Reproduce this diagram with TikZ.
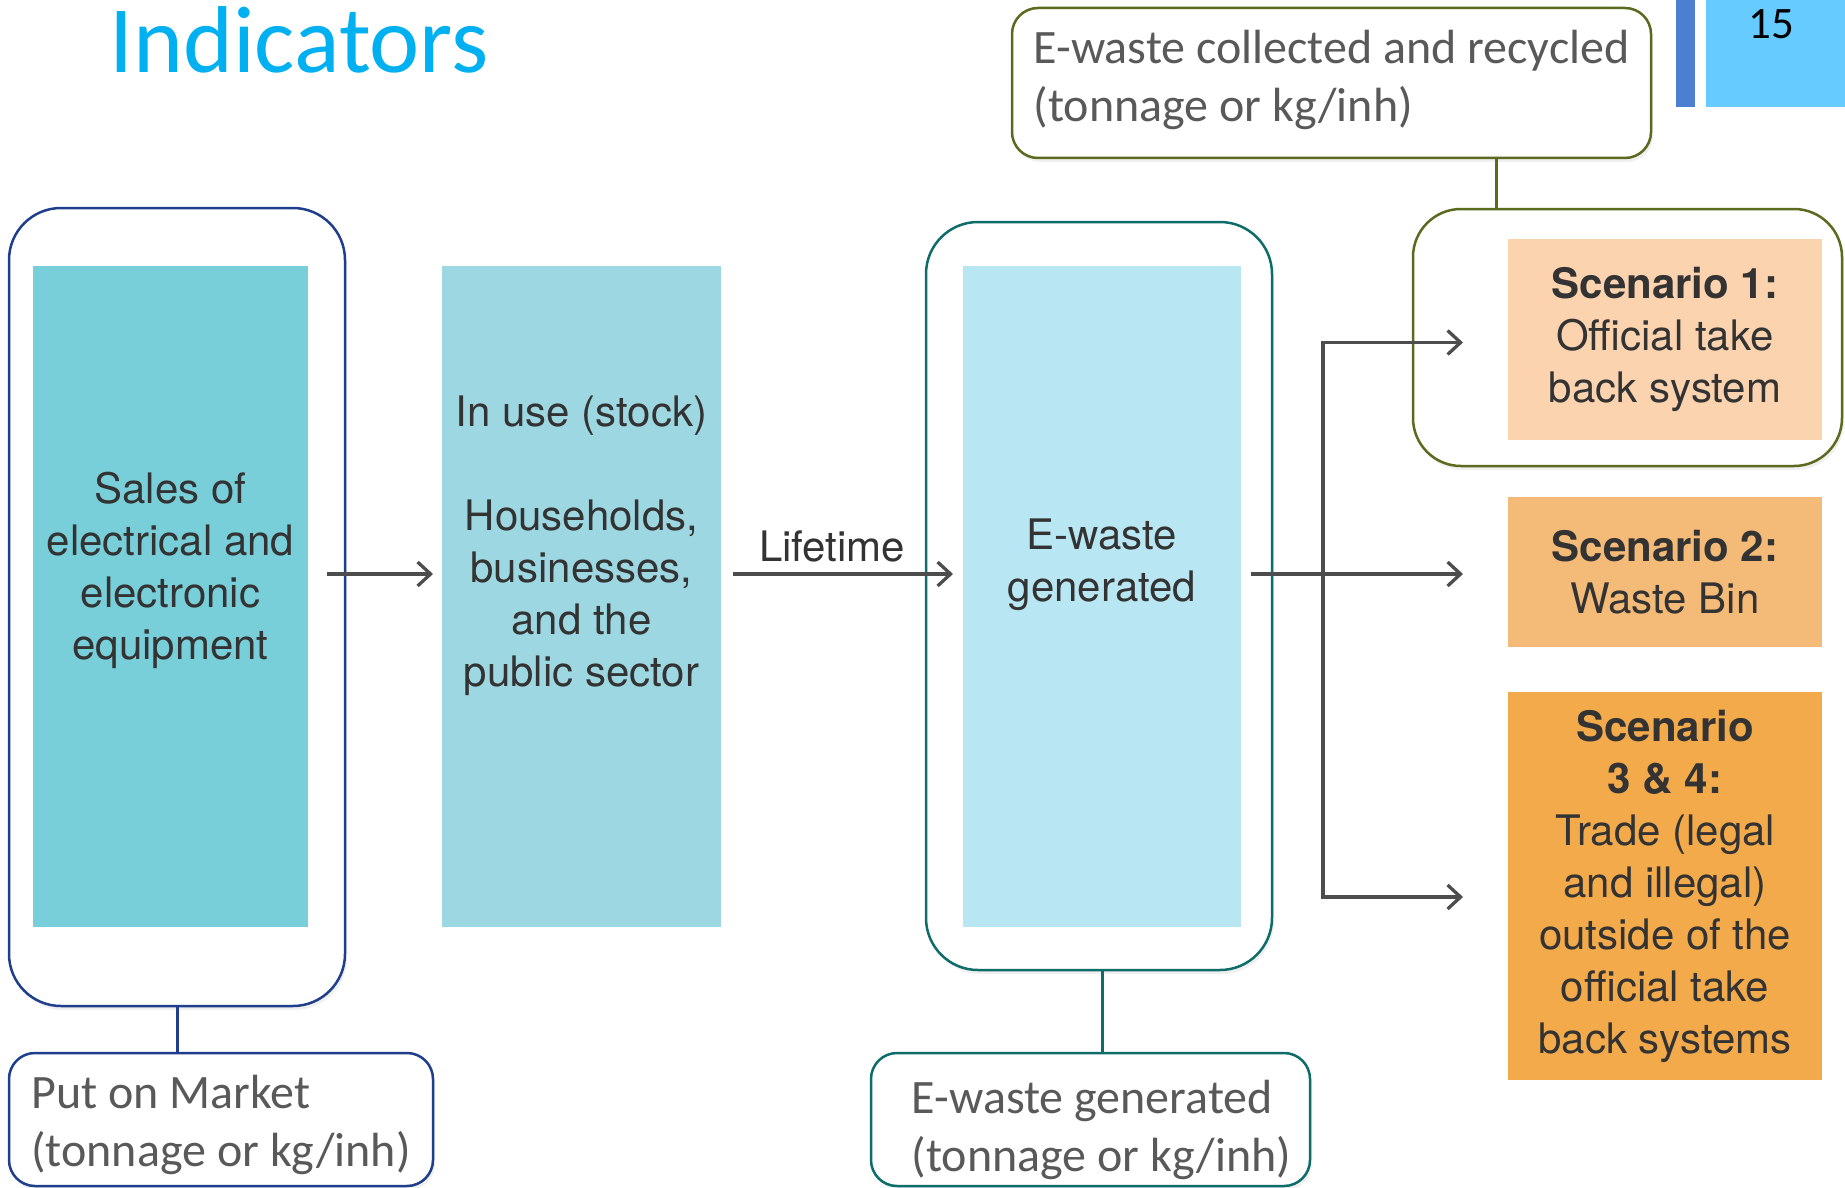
\documentclass[tikz,border=0pt]{standalone}
\usepackage{fontspec}
\setmainfont{Carlito}
\newfontfamily\helv{TeX Gyre Heros}
\usetikzlibrary{arrows.meta,shadows}
\definecolor{titleblue}{HTML}{00B0F0}
\definecolor{mktblue}{HTML}{1F3F8C}
\definecolor{ewteal}{HTML}{0E6D69}
\definecolor{recolive}{HTML}{5A6B20}
\definecolor{salescol}{HTML}{78CED9}
\definecolor{usecol}{HTML}{9DD7E1}
\definecolor{ewcol}{HTML}{B8E7F3}
\definecolor{scone}{HTML}{FBD3AF}
\definecolor{sctwo}{HTML}{F4BA77}
\definecolor{scthree}{HTML}{F3AA4B}
\definecolor{txtgray}{HTML}{595959}
\definecolor{flowgray}{HTML}{4D4D4D}
\definecolor{stripblue}{HTML}{4A7FD2}
\definecolor{numblue}{HTML}{66CCFF}
\tikzset{
  bigframe/.style={draw, fill=white, line width=2.5pt, outer sep=0pt, rounded corners=#1,
    drop shadow={opacity=0.12, shadow xshift=2pt, shadow yshift=-4pt}},
  bigframe/.default=52pt,
  tag/.style={draw, fill=white, line width=2.5pt, outer sep=0pt, rounded corners=26pt,
    align=left, text=txtgray, font=\fontsize{48}{58}\selectfont,
    drop shadow={opacity=0.12, shadow xshift=2pt, shadow yshift=-4pt}},
  stage/.style={inner sep=0pt, outer sep=0pt, minimum height=661pt},
  lbl/.style={inner sep=0pt, outer sep=0pt, align=center, text=black!80,
    font=\helv\fontsize{42}{52}\selectfont},
  flow/.style={line width=3.3pt, draw=flowgray, -{Straight Barb[length=13pt,width=24pt]}},
  link/.style={line width=3pt}
}
\begin{document}
\begin{tikzpicture}[x=1pt,y=-1pt]
\useasboundingbox (0,0) rectangle (1845,1188);
% slide header
\fill[stripblue] (1676,0) rectangle (1695,107);
\fill[numblue] (1706,0) rectangle (1845,107);
\node[font=\fontsize{45}{54}\selectfont] (pagenum) at (1771,24) {15};
\node[anchor=base west, text=titleblue, font=\fontsize{95}{110}\selectfont] (title) at (106,73) {Indicators};
% frames
\node[bigframe, draw=mktblue, minimum width=336pt, minimum height=798pt] (salesframe) at (177,607) {};
\node[bigframe, draw=ewteal, minimum width=346pt, minimum height=748pt] (ewframe) at (1099,596) {};
\node[bigframe=48pt, draw=recolive, minimum width=429pt, minimum height=257pt] (scframe) at (1627.5,337.5) {};
% stages
\node[stage, fill=salescol, minimum width=275pt] (sales) at (170.5,596.5) {};
\node[stage, fill=usecol, minimum width=279pt] (inuse) at (581.5,596.5) {};
\node[stage, fill=ewcol, minimum width=278pt] (ewaste) at (1102,596.5) {};
\node[lbl] (salestxt) at (170.5,570.5) {Sales of\\electrical and\\electronic\\equipment};
\node[lbl] (inusetxt) at (581.5,546) {In use (stock)\\[52pt]Households,\\businesses,\\and the\\public sector};
\node[lbl] (ewastetxt) at (1102,565) {E-waste\\generated};
% scenarios
\node[lbl, fill=scone, minimum width=314pt, minimum height=201pt] (sc1) at (1665,339.5)
  {\textbf{Scenario 1:}\\Official take\\back system};
\node[lbl, fill=sctwo, minimum width=314pt, minimum height=150pt] (sc2) at (1665,572)
  {\textbf{Scenario 2:}\\Waste Bin};
\node[lbl, fill=scthree, minimum width=314pt, minimum height=388pt] (sc3) at (1665,886)
  {\textbf{Scenario}\\\textbf{3 \& 4:}\\Trade (legal\\and illegal)\\outside of the\\official take\\back systems};
% indicators
\node[tag, draw=mktblue, minimum width=424pt, minimum height=133pt] (market) at (221,1119.5)
  {\rule{0pt}{44pt}Put on Market\\(tonnage or kg/inh)};
\node[tag, draw=ewteal, minimum width=439pt, minimum height=133pt] (ewtag) at (1090.5,1119.5)
  {\rule{0pt}{54pt}\hspace*{22pt}E-waste generated\\\hspace*{22pt}(tonnage or kg/inh)};
\node[tag, draw=recolive, minimum width=639pt, minimum height=150pt] (rectag) at (1331.5,83)
  {E-waste collected and recycled\\(tonnage or kg/inh)\rule[-14pt]{0pt}{0pt}};
\draw[link, mktblue] (salesframe.south) -- (salesframe.south |- market.north);
\draw[link, ewteal] (ewaste.south |- ewframe.south) -- (ewaste.south |- ewtag.north);
\draw[link, recolive] ([xshift=-155pt]rectag.south east) -- ([xshift=-155pt]rectag.south east |- scframe.north);
% flows
\coordinate (split) at (1323,574);
\draw[flow] ([xshift=19pt]sales.east |- split) -- ([xshift=-9pt]inuse.west |- split);
\draw[flow] ([xshift=12pt]inuse.east |- split) -- node[lbl, above=12pt, pos=0.45] (life) {Lifetime} ([xshift=-10pt]ewaste.west |- split);
\draw[flow] ([xshift=10pt]ewaste.east |- split) -- ([xshift=-45pt]sc2.west |- split);
\draw[flow] (split) |- ([xshift=-45pt,yshift=-3pt]sc1.west);
\draw[flow] (split) |- ([xshift=-45pt,yshift=-11pt]sc3.west);
\end{tikzpicture}
\end{document}
